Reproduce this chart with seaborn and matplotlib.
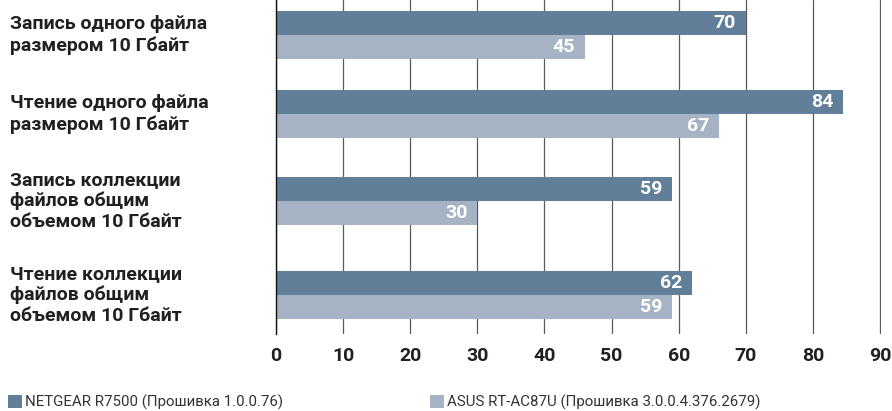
import numpy as np
import pandas as pd
import matplotlib
matplotlib.use("Agg")
import matplotlib.pyplot as plt
import seaborn as sns
from matplotlib.patches import Patch

# ---- data ----
categories = [
    "Запись одного файла\nразмером 10 Гбайт",
    "Чтение одного файла\nразмером 10 Гбайт",
    "Запись коллекции\nфайлов общим\nобъемом 10 Гбайт",
    "Чтение коллекции\nфайлов общим\nобъемом 10 Гбайт",
]
series = [
    "NETGEAR R7500 (Прошивка 1.0.0.76)",
    "ASUS RT-AC87U (Прошивка 3.0.0.4.376.2679)",
]
netgear_values = [70, 84.5, 59, 62]
asus_values = [46, 66, 30, 59]
netgear_labels = ["70", "84", "59", "62"]
asus_labels = ["45", "67", "30", "59"]
x_ticks = [0, 10, 20, 30, 40, 50, 60, 70, 80, 90]

DARK = "#617f99"
LIGHT = "#a6b3c5"
TEXT = "#231f20"

sns.set_theme(style="white")
plt.rcParams["font.family"] = ["Roboto", "DejaVu Sans"]

# group positions depend on number of label lines (layout)
lines = [c.count("\n") + 1 for c in categories]
pos = [0.0]
for i in range(1, len(categories)):
    pos.append(pos[-1] + 49 + 7.5 * (lines[i - 1] + lines[i]))
min_gap = min(np.diff(pos))

df = pd.DataFrame({
    "pos": pos * 2,
    "value": netgear_values + asus_values,
    "series": [series[0]] * 4 + [series[1]] * 4,
})
labels_by_series = [netgear_labels, asus_labels]

fig = plt.figure(figsize=(8.92, 4.11), dpi=100)
ax = fig.add_axes([276 / 892, 1 - 334 / 411, (881 - 276) / 892, 334 / 411])

sns.barplot(data=df, x="value", y="pos", hue="series", hue_order=series,
            orient="h", native_scale=True, width=48 / min_gap,
            palette=[DARK, LIGHT], saturation=1, dodge=True,
            linewidth=0, legend=False, ax=ax, errorbar=None)

ax.set_xlim(0, 90.15)
ax.set_ylim(pos[-1] + 39, pos[0] - 35)
ax.set_xticks(x_ticks)
ax.set_xticklabels([str(t) for t in x_ticks], fontweight="bold",
                   fontsize=14, color=TEXT)
ax.set_yticks(pos)
ax.set_yticklabels(categories, ha="left", va="center", fontweight="bold",
                   fontsize=14, color=TEXT, linespacing=1.2)
ax.tick_params(axis="y", length=0, pad=266 * 72 / 100)
ax.tick_params(axis="x", length=0, pad=9)
ax.set_xlabel("")
ax.set_ylabel("")

ax.xaxis.grid(True, color="#5a5a5a", linewidth=0.9)
ax.yaxis.grid(False)
ax.set_axisbelow(True)
for s in ["top", "right", "bottom"]:
    ax.spines[s].set_visible(False)
ax.spines["left"].set_color("#111111")
ax.spines["left"].set_linewidth(1.0)
ax.spines["left"].set_zorder(3)

for cont, labs in zip(ax.containers, labels_by_series):
    for bar, lab in zip(cont, labs):
        ax.annotate(lab, (bar.get_x() + bar.get_width(), bar.get_y() + bar.get_height() / 2),
                    xytext=(-7, 0), textcoords="offset points",
                    ha="right", va="center", color="white",
                    fontweight="bold", fontsize=14)

for col, lab, x0 in [(DARK, series[0], 8 / 892), (LIGHT, series[1], 430 / 892)]:
    fig.legend(handles=[Patch(facecolor=col, edgecolor="none")], labels=[lab],
               loc="center left", bbox_to_anchor=(x0, 1 - 402 / 411),
               frameon=False, handlelength=0.95, handleheight=0.95,
               handletextpad=0.2, borderpad=0, borderaxespad=0,
               fontsize=10.8, labelcolor="#333333")

fig.savefig("out.png", dpi=100)
